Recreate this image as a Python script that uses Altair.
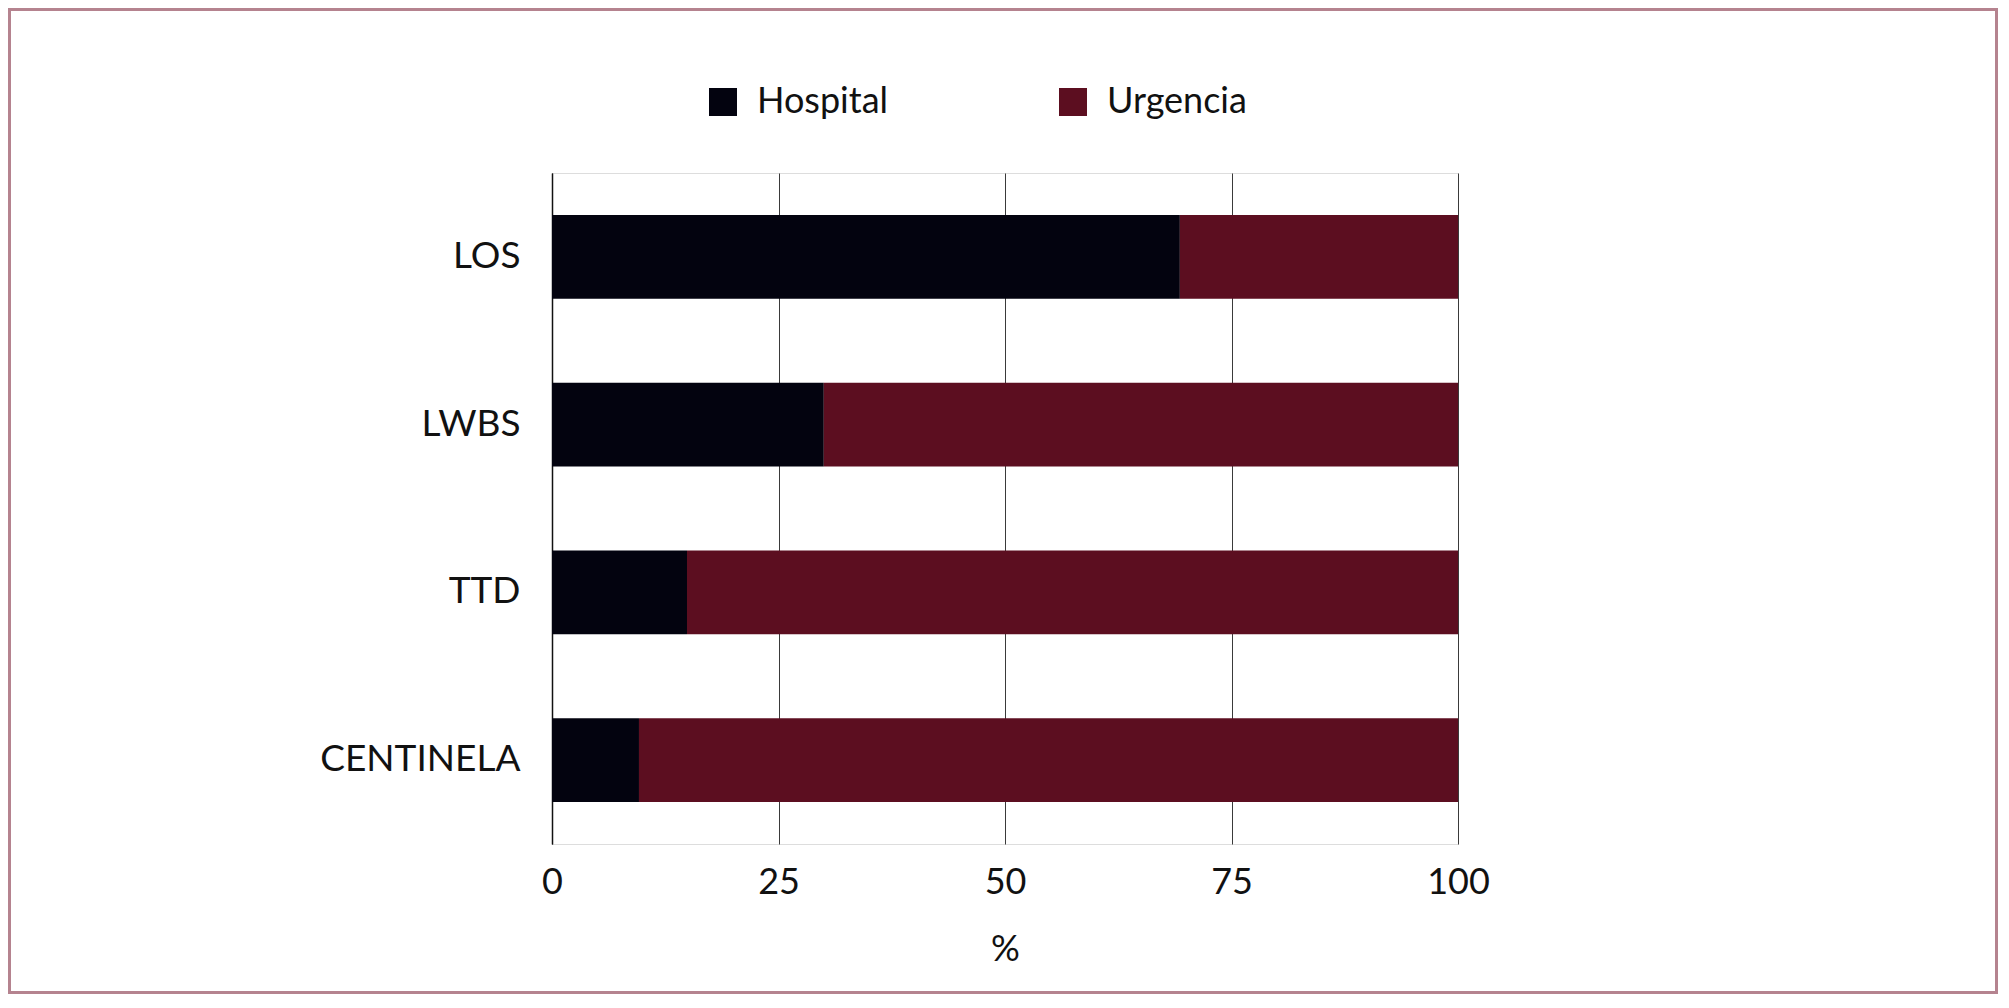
import altair as alt
import pandas as pd

categories = ["LOS", "LWBS", "TTD", "CENTINELA"]
hospital = [69.3, 30.0, 14.9, 9.6]
urgencia = [100 - v for v in hospital]
series = ["Hospital", "Urgencia"]
colors = ["#03030f", "#5c0e20"]
ticks = [0, 25, 50, 75, 100]

rows = []
for c, h, u in zip(categories, hospital, urgencia):
    rows.append({"cat": c, "serie": "Hospital", "val": h, "ord": 0})
    rows.append({"cat": c, "serie": "Urgencia", "val": u, "ord": 1})
df = pd.DataFrame(rows)

W, H = 906, 671
PL, PT = 544, 165
TOTW, TOTH = 1990, 986
PR = TOTW - PL - W
PB = TOTH - PT - H
FONT = "Lato"

bars = alt.Chart(df).mark_bar().encode(
    x=alt.X("val:Q", stack="zero",
            scale=alt.Scale(domain=[0, 100], nice=False),
            axis=alt.Axis(title="%", values=ticks, grid=True, domain=False, ticks=False,
                          gridColor="#3a3a3a", gridWidth=1, gridOpacity=1,
                          labelFont=FONT, labelFontSize=36, labelColor="#111111",
                          labelFlush=False,
                          labelPadding=21, titleFont=FONT, titleFontSize=36,
                          titleFontWeight="normal", titleColor="#111111",
                          titlePadding=32)),
    y=alt.Y("cat:N", sort=categories,
            scale=alt.Scale(paddingInner=0.5, paddingOuter=0.25),
            axis=alt.Axis(title=None, grid=False, ticks=False, domain=True,
                          domainColor="#111111", domainWidth=1.5,
                          labelFont=FONT, labelFontSize=37, labelColor="#111111",
                          labelPadding=32, labelLimit=500)),
    color=alt.Color("serie:N", scale=alt.Scale(domain=series, range=colors),
                    legend=alt.Legend(title=None, orient="none", direction="horizontal",
                                      legendX=153, legendY=-89, columns=2,
                                      symbolType="square", symbolSize=784,
                                      symbolStrokeWidth=0, symbolOpacity=1,
                                      labelFont=FONT, labelFontSize=36,
                                      labelColor="#111111", labelOffset=16,
                                      labelLimit=500, columnPadding=166, padding=0)),
    order=alt.Order("ord:Q"),
)

frame = alt.Chart(pd.DataFrame({"k": [0]})).mark_rect(
    fill=None, stroke="#b5838f", strokeWidth=3, clip=False
).encode(
    x=alt.value(-PL + 1.5), x2=alt.value(W + PR - 1.5),
    y=alt.value(-PT + 1.5), y2=alt.value(H + PB - 1.5),
)

chart = alt.layer(bars, frame).properties(
    width=W, height=H,
    autosize=alt.AutoSizeParams(type="none"),
    padding={"left": PL, "top": PT, "right": PR, "bottom": PB},
).configure_view(stroke=None).configure(background="white")

chart.save("out.html", embed_options={"renderer": "svg", "actions": False})
